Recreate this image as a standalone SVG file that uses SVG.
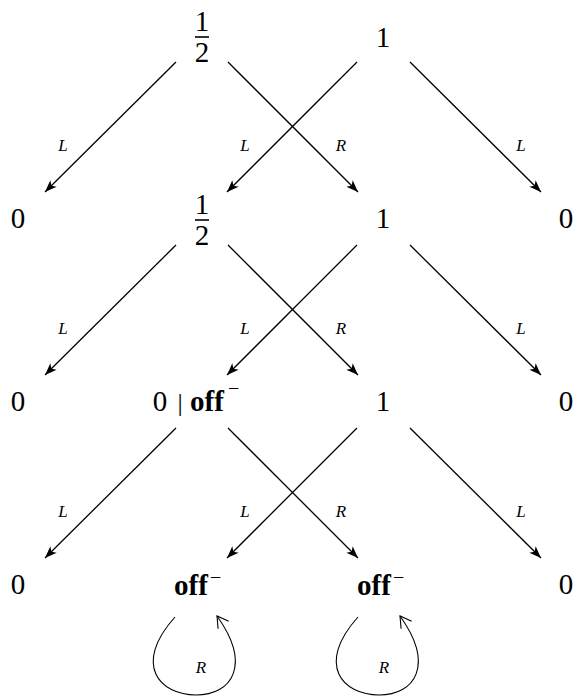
<svg xmlns="http://www.w3.org/2000/svg" width="576" height="697" viewBox="0 0 576 697">
<style>
.t{font-family:"Liberation Serif","Times New Roman",serif;font-size:29px;fill:#000;text-anchor:middle}
.b{font-family:"Liberation Serif","Times New Roman",serif;font-size:29px;font-weight:bold;fill:#000}
.m{font-family:"Liberation Serif","Times New Roman",serif;font-size:20px;fill:#000}
.l{font-family:"Liberation Serif","Times New Roman",serif;font-size:17px;font-style:italic;fill:#000;text-anchor:middle}
.e{stroke:#000;stroke-width:1.3;fill:none;marker-end:url(#ah)}
.lp{stroke:#000;stroke-width:1.1;fill:none;marker-end:url(#oh)}
.bar{stroke:#000;stroke-width:1.6}
</style>
<defs>
<marker id="ah" viewBox="-13 -5 14 10" refX="0" refY="0" markerWidth="14" markerHeight="10" markerUnits="userSpaceOnUse" orient="auto">
<path d="M-12,-4.5 L0,0 L-12,4.5 L-9,0 Z" fill="#000"/>
</marker>
<marker id="oh" viewBox="-13 -8 15 16" refX="0" refY="0" markerWidth="15" markerHeight="16" markerUnits="userSpaceOnUse" orient="auto">
<path d="M-11,-6.5 L0,0 L-11,6.5" fill="none" stroke="#000" stroke-width="1.1"/>
</marker>
</defs>
<g id="connectors">
<line class="e" x1="176" y1="62" x2="45" y2="192"/>
<line class="e" x1="228" y1="62" x2="358" y2="192"/>
<line class="e" x1="357" y1="62" x2="227" y2="192"/>
<line class="e" x1="410" y1="62" x2="541" y2="192"/>
<line class="e" x1="176" y1="245" x2="45" y2="375"/>
<line class="e" x1="228" y1="245" x2="358" y2="375"/>
<line class="e" x1="357" y1="245" x2="227" y2="375"/>
<line class="e" x1="410" y1="245" x2="541" y2="375"/>
<line class="e" x1="176" y1="428" x2="45" y2="558"/>
<line class="e" x1="228" y1="428" x2="358" y2="558"/>
<line class="e" x1="357" y1="428" x2="227" y2="558"/>
<line class="e" x1="410" y1="428" x2="541" y2="558"/>
<path class="lp" d="M175,617 C132,665 160,695 196,695 C232,695 252,665 217,616"/>
<path class="lp" d="M358,617 C315,665 343,695 379,695 C415,695 435,665 400,616"/>
<text class="l" x="63" y="151">L</text>
<text class="l" x="245" y="151">L</text>
<text class="l" x="341" y="151">R</text>
<text class="l" x="521" y="151">L</text>
<text class="l" x="63" y="334">L</text>
<text class="l" x="245" y="334">L</text>
<text class="l" x="341" y="334">R</text>
<text class="l" x="521" y="334">L</text>
<text class="l" x="63" y="517">L</text>
<text class="l" x="245" y="517">L</text>
<text class="l" x="341" y="517">R</text>
<text class="l" x="521" y="517">L</text>
<text class="l" x="201" y="673">R</text>
<text class="l" x="384" y="673">R</text>
</g>
<g id="n0_half">
<text class="t" x="202" y="31">1</text>
<line class="bar" x1="195" y1="37" x2="209" y2="37"/>
<text class="t" x="202" y="62">2</text>
</g>
<g id="n0_one"><text class="t" x="383" y="47">1</text></g>
<g id="n1_zero_l"><text class="t" x="18" y="228">0</text></g>
<g id="n1_half">
<text class="t" x="202" y="214">1</text>
<line class="bar" x1="195" y1="220" x2="209" y2="220"/>
<text class="t" x="202" y="245">2</text>
</g>
<g id="n1_one"><text class="t" x="383" y="228">1</text></g>
<g id="n1_zero_r"><text class="t" x="566" y="228">0</text></g>
<g id="n2_zero_l"><text class="t" x="18" y="411">0</text></g>
<g id="n2_mid">
<text class="t" x="160" y="411">0</text>
<text class="t" x="180" y="411" style="font-size:26px">|</text>
<text class="b" x="190" y="411">off</text>
<text class="m" x="228" y="395">−</text>
</g>
<g id="n2_one"><text class="t" x="383" y="411">1</text></g>
<g id="n2_zero_r"><text class="t" x="566" y="411">0</text></g>
<g id="n3_zero_l"><text class="t" x="18" y="594">0</text></g>
<g id="n3_off_l">
<text class="b" x="174" y="595">off</text>
<text class="m" x="210" y="584">−</text>
</g>
<g id="n3_off_r">
<text class="b" x="357" y="595">off</text>
<text class="m" x="393" y="584">−</text>
</g>
<g id="n3_zero_r"><text class="t" x="566" y="594">0</text></g>
</svg>
